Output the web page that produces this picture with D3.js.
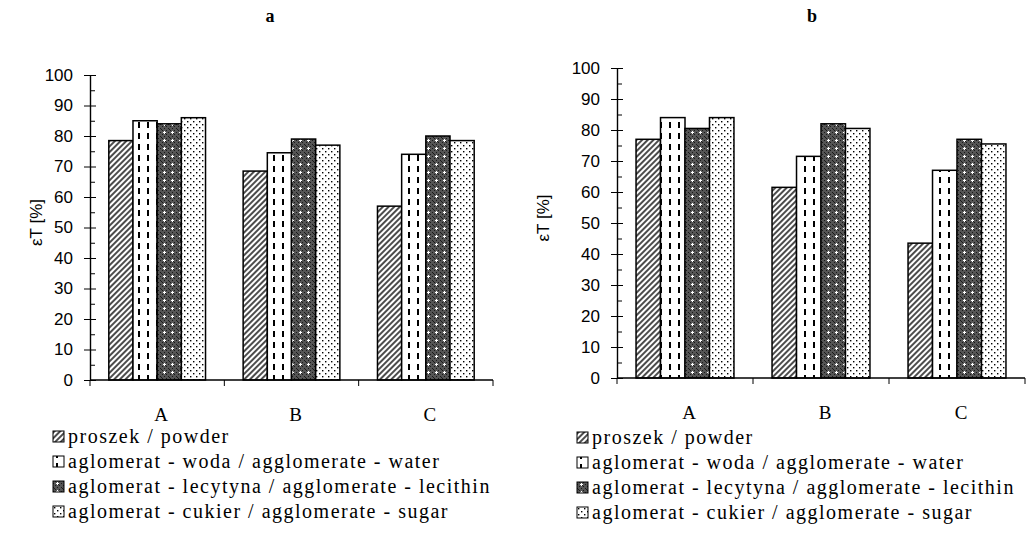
<!DOCTYPE html>
<meta charset="utf-8">
<style>
    body { margin: 0; background: #fff; }
    .tick text { font-family: "Liberation Sans", Arial, sans-serif; font-size: 17px; fill: #000; }
    .cat { font-family: "Liberation Serif", "Times New Roman", serif; font-size: 19px; }
    .legend text { font-family: "Liberation Serif", "Times New Roman", serif; font-size: 20px; letter-spacing: 1.5px; }
    .title { font-family: "Liberation Serif", "Times New Roman", serif; font-size: 18px; font-weight: bold; }
    .ylab { font-family: "Liberation Sans", Arial, sans-serif; font-size: 17px; }
</style>
<svg width="1031" height="537"></svg>
<script src="https://d3js.org/d3.v7.min.js"></script>
<script>
    var categories = ["A", "B", "C"];
    var seriesNames = [
        "proszek / powder",
        "aglomerat - woda / agglomerate - water",
        "aglomerat - lecytyna / agglomerate - lecithin",
        "aglomerat - cukier / agglomerate - sugar"
    ];
    var yTicks = [0, 10, 20, 30, 40, 50, 60, 70, 80, 90, 100];
    // values per series, in category order A, B, C
    var valuesA = [
        [78.5, 68.5, 57],
        [85, 74.5, 74],
        [84, 79, 80],
        [86, 77, 78.5]
    ];
    var valuesB = [
        [77, 61.5, 43.5],
        [84, 71.5, 67],
        [80.5, 82, 77],
        [84, 80.5, 75.5]
    ];

    var svg = d3.select("svg");
    var defs = svg.append("defs");

    // hatch
    var p1 = defs.append("pattern").attr("id", "p0").attr("patternUnits", "userSpaceOnUse")
        .attr("width", 4).attr("height", 4).attr("patternTransform", "rotate(45)");
    p1.append("rect").attr("width", 4).attr("height", 4).attr("fill", "#fff");
    p1.append("line").attr("x1", 1).attr("y1", 0).attr("x2", 1).attr("y2", 4)
        .attr("stroke", "#000").attr("stroke-width", 1.4);

    // vertical dashes
    var p2 = defs.append("pattern").attr("id", "p1").attr("patternUnits", "userSpaceOnUse")
        .attr("width", 9).attr("height", 11);
    p2.append("rect").attr("width", 9).attr("height", 11).attr("fill", "#fff");
    p2.append("rect").attr("x", 3).attr("y", 1).attr("width", 2).attr("height", 6).attr("fill", "#000");

    // dark with white dots
    var p3 = defs.append("pattern").attr("id", "p2").attr("patternUnits", "userSpaceOnUse")
        .attr("width", 8).attr("height", 8);
    p3.append("rect").attr("width", 8).attr("height", 8).attr("fill", "#555");
    [[0, 0], [2, 2], [4, 0], [6, 2], [0, 4], [2, 6], [4, 4], [6, 6], [1, 1], [5, 5]].forEach(function (d) {
        p3.append("rect").attr("x", d[0]).attr("y", d[1]).attr("width", 1).attr("height", 1).attr("fill", "#1a1a1a");
    });
    p3.append("rect").attr("x", 4).attr("y", 3).attr("width", 1).attr("height", 3).attr("fill", "#fff");
    p3.append("rect").attr("x", 3).attr("y", 4).attr("width", 3).attr("height", 1).attr("fill", "#fff");

    // sparse dots
    var p4 = defs.append("pattern").attr("id", "p3").attr("patternUnits", "userSpaceOnUse")
        .attr("width", 6).attr("height", 6);
    p4.append("rect").attr("width", 6).attr("height", 6).attr("fill", "#fff");
    p4.append("rect").attr("x", 1).attr("y", 1).attr("width", 1.4).attr("height", 1.4).attr("fill", "#000");
    p4.append("rect").attr("x", 4).attr("y", 4).attr("width", 1.4).attr("height", 1.4).attr("fill", "#000");

    function drawChart(o) {
        var g = svg.append("g");
        var x = d3.scaleBand().domain(categories).range([o.x0, o.x1])
            .paddingInner(0.28).paddingOuter(0.14);
        var xs = d3.scaleBand().domain(d3.range(seriesNames.length)).range([0, x.bandwidth()]);
        var y = d3.scaleLinear().domain([0, 100]).range([o.y0, o.y1]);

        g.append("text").attr("class", "title").attr("x", o.titleX).attr("y", 22)
            .attr("text-anchor", "middle").text(o.title);

        // bars
        o.values.forEach(function (vals, s) {
            g.append("g").selectAll("rect").data(vals).enter().append("rect")
                .attr("x", function (d, i) { return x(categories[i]) + xs(s); })
                .attr("y", function (d) { return y(d); })
                .attr("width", xs.bandwidth())
                .attr("height", function (d) { return y(0) - y(d); })
                .attr("fill", "url(#p" + s + ")")
                .attr("stroke", "#000").attr("stroke-width", 1.5);
        });

        // y axis
        var ya = g.append("g").attr("transform", "translate(" + o.x0 + ",0)")
            .call(d3.axisLeft(y).tickValues(yTicks).tickSize(6).tickSizeOuter(0).tickPadding(11));
        ya.selectAll(".tick line").attr("x1", 6);
        ya.select(".domain").attr("stroke-width", 1.4);
        var minor = d3.range(5, 100, 10);
        g.append("g").attr("transform", "translate(" + o.x0 + ",0)")
            .call(d3.axisLeft(y).tickValues(minor).tickSize(-5).tickFormat(""))
            .select(".domain").remove();

        // x axis with ticks at group boundaries
        var step = x.step();
        var bounds = [o.x0].concat(categories.map(function (c) {
            return x(c) + x.bandwidth() + step * x.paddingInner() / 2;
        }));
        g.append("line").attr("x1", o.x0).attr("x2", bounds[bounds.length - 1])
            .attr("y1", y(0)).attr("y2", y(0)).attr("stroke", "#000").attr("stroke-width", 1.4);
        g.append("g").selectAll("line").data(bounds).enter().append("line")
            .attr("x1", function (d) { return d; }).attr("x2", function (d) { return d; })
            .attr("y1", y(0)).attr("y2", y(0) + 6).attr("stroke", "#000");
        g.append("g").selectAll("text").data(categories).enter().append("text")
            .attr("class", "cat")
            .attr("x", function (d) { return x(d) + x.bandwidth() / 2 + 4; })
            .attr("y", y(0) + 41).attr("text-anchor", "middle").text(function (d) { return d; });

        g.append("text").attr("class", "ylab")
            .attr("transform", "translate(" + o.ylabX + "," + (y(50) - 5) + ") rotate(-90)")
            .attr("text-anchor", "middle").text(o.ylab);

        // legend
        var lg = g.append("g").attr("class", "legend");
        var rows = lg.selectAll("g").data(seriesNames).enter().append("g")
            .attr("transform", function (d, i) { return "translate(" + o.legX + "," + (o.legY + i * 25) + ")"; });
        rows.append("rect").attr("x", 0).attr("y", -6).attr("width", 11).attr("height", 11)
            .attr("fill", function (d, i) { return "url(#p" + i + ")"; })
            .attr("stroke", "#000").attr("stroke-width", 1);
        rows.append("text").attr("x", 15).attr("y", 6).text(function (d) { return d; });
    }

    drawChart({ values: valuesA, x0: 90, x1: 493, y0: 380, y1: 75, title: "a", titleX: 270,
        ylab: "\u03b5T [%]", ylabX: 42, legX: 53, legY: 437 });
    drawChart({ values: valuesB, x0: 617, x1: 1025, y0: 378, y1: 68, title: "b", titleX: 812,
        ylab: "\u03b5T [%]", ylabX: 549, legX: 577, legY: 438 });
</script>
